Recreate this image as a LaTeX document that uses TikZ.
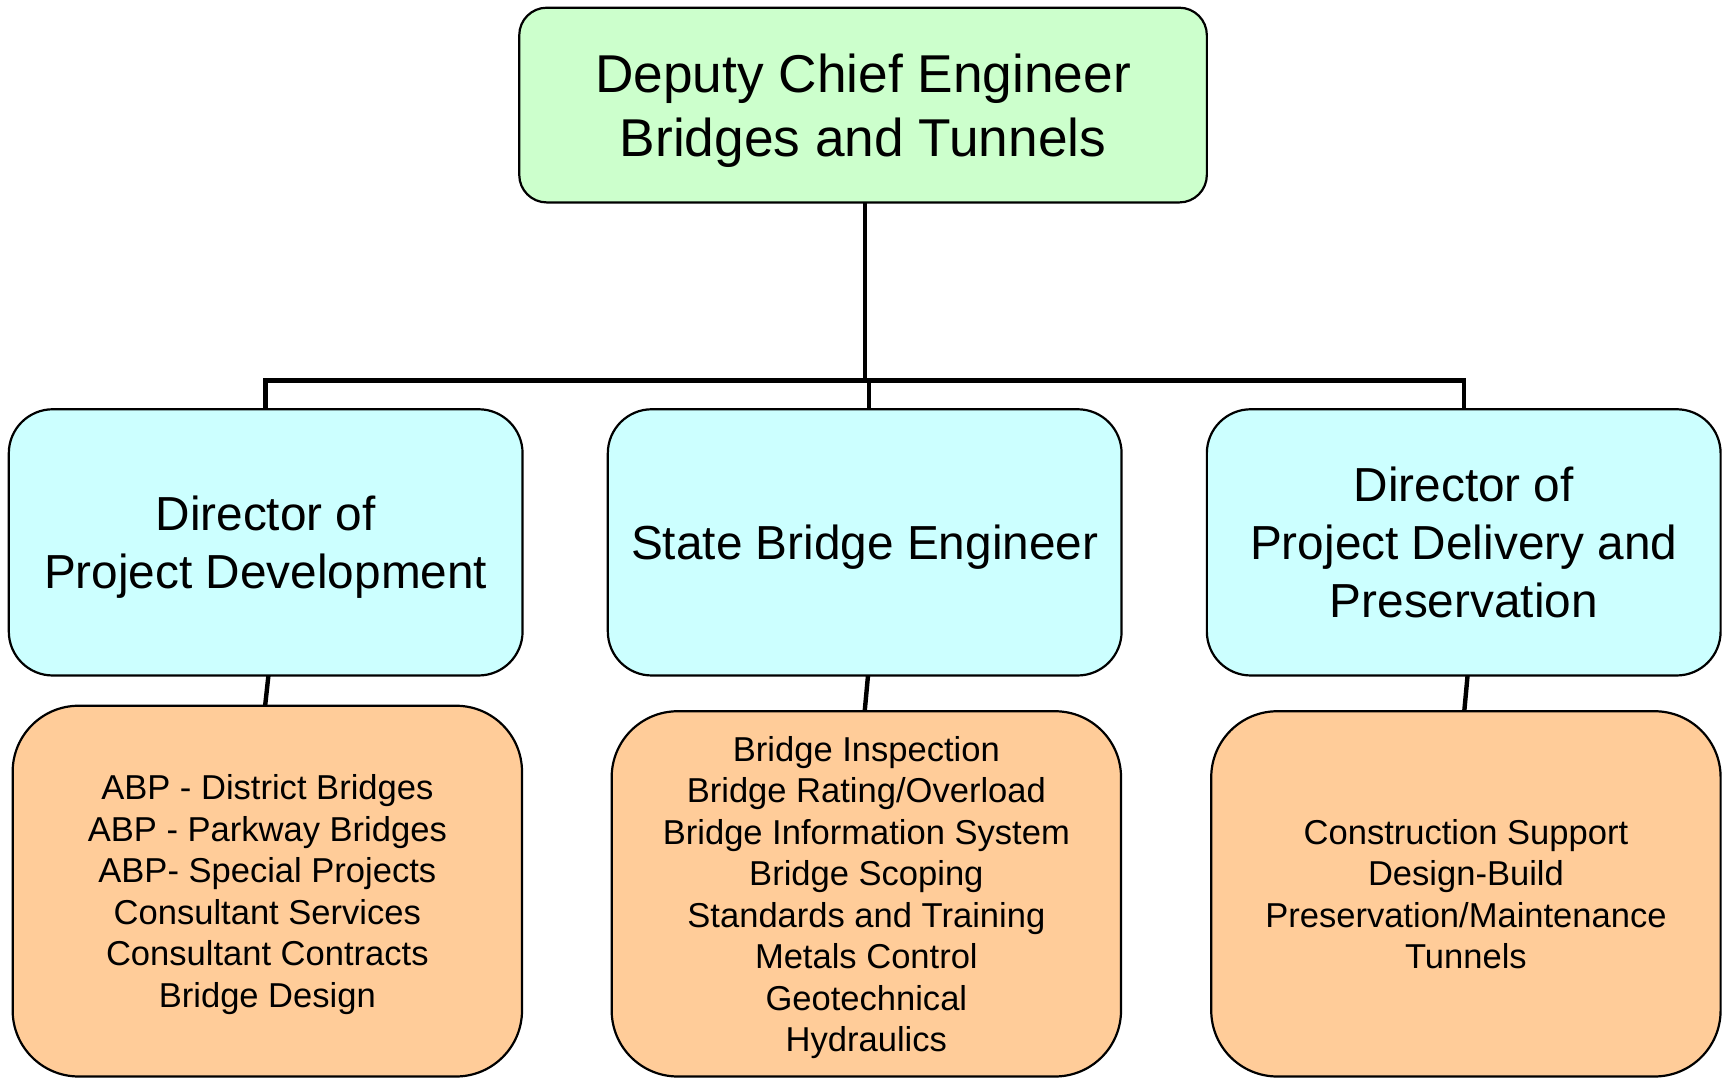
\documentclass[tikz,border=0pt]{standalone}
\usepackage{fontspec}
\setmainfont{Liberation Sans}
\usetikzlibrary{calc}
\definecolor{topgreen}{HTML}{CCFFCC}
\definecolor{midcyan}{HTML}{CCFFFF}
\definecolor{botorange}{HTML}{FFCC99}
\begin{document}
\begin{tikzpicture}[x=0.5pt,y=-0.5pt,
  box/.style={draw=black, line width=1pt, align=center, inner sep=0pt, outer sep=0pt, text depth=0pt},
  topbox/.style={box, fill=topgreen, rounded corners=12.5pt, minimum width=312.5pt, minimum height=88.5pt,
     font=\fontsize{24.2pt}{29pt}\selectfont},
  midbox/.style={box, fill=midcyan, rounded corners=20pt, minimum width=233.5pt, minimum height=121pt,
     font=\fontsize{21.7pt}{26.5pt}\selectfont},
  botbox/.style={box, fill=botorange, rounded corners=30pt, minimum width=231.5pt,
     font=\fontsize{15.7pt}{18.85pt}\selectfont},
  conn/.style={line width=2pt, black}]
\useasboundingbox (0,0) rectangle (1568,980);
\node[topbox] (top) at (784.5,95.5) {Deputy Chief Engineer\\Bridges and Tunnels};
\node[midbox] (m1) at (241.5,493) {Director of\\Project Development};
\node[midbox] (m2) at (786,493) {State Bridge Engineer};
\node[midbox] (m3) at (1330.5,493) {Director of\\Project Delivery and\\Preservation};
\node[botbox, minimum height=168.5pt, text depth=-1.7pt] (b1) at (243,810) {ABP - District Bridges\\ABP - Parkway Bridges\\ABP- Special Projects\\Consultant Services\\Consultant Contracts\\Bridge Design};
\node[botbox, minimum height=166pt, text depth=-5pt] (b2) at (787.5,812.5) {Bridge Inspection\\Bridge Rating/Overload\\Bridge Information System\\Bridge Scoping\\Standards and Training\\Metals Control\\Geotechnical\\Hydraulics};
\node[botbox, minimum height=166pt] (b3) at (1332.5,812.5) {Construction Support\\Design-Build\\Preservation/Maintenance\\Tunnels};
\coordinate (bar) at (786,346);
\draw[conn] (bar |- top.south) -- (bar);
\draw[conn] (m1.north) -- (m1.north |- bar) -- (m3.north |- bar) -- (m3.north);
\draw[conn] ($(m2.north)+(4,0)$) -- ($(m2.north |- bar)+(4,0)$);
\draw[conn] ($(m1.south)+(2.5,0)$) -- ($(b1.north)+(-2,0)$);
\draw[conn] ($(m2.south)+(3,0)$) -- ($(b2.north)+(-1.5,0)$);
\draw[conn] ($(m3.south)+(3.5,0)$) -- ($(b3.north)+(-1.5,0)$);
\end{tikzpicture}
\end{document}
